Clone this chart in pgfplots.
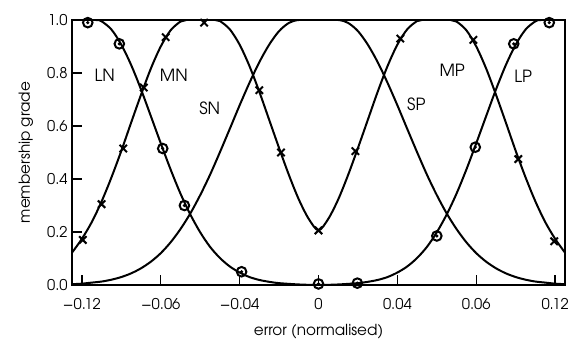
\documentclass[border=0pt]{standalone}
\usepackage{fontspec}
\setmainfont{TeX Gyre Adventor}
\usepackage{pgfplots}
\pgfplotsset{compat=1.18}
\begin{document}
\begin{tikzpicture}
\begin{axis}[
  scale only axis,
  width=246.5pt, height=132.5pt,
  xmin=-0.125, xmax=0.125, ymin=0, ymax=1,
  xtick={-0.12,-0.08,-0.04,0,0.04,0.08,0.12},
  xticklabels={−0.12,−0.06,−0.04,0,0.04,0.06,0.12},
  ytick={0,0.2,0.4,0.6,0.8,1},
  yticklabels={0.0,0.2,0.4,0.6,0.8,1.0},
  tick align=inside, xtick pos=bottom, ytick pos=left,
  major tick length=5pt,
  tick style={line width=0.7pt, black},
  axis line style={line width=0.8pt},
  ticklabel style={font=\fontsize{7.4}{8}\selectfont},
  xticklabel style={inner sep=0pt, anchor=north, yshift=-6.5pt},
  yticklabel style={inner sep=0pt, anchor=east, xshift=-2pt},
  xlabel={error (normalised)},
  ylabel={membership grade},
  label style={font=\fontsize{7.6}{9}\selectfont},
  xlabel style={at={(axis description cs:0.5,-0.189)}, anchor=base},
  ylabel style={at={(axis description cs:-0.0933,0.5)}, anchor=center},
  every axis plot/.append style={black},
]
% LN
\addplot[smooth, line width=1pt, no marks] coordinates {
(-0.125,1)(-0.113,1)(-0.11,0.995)(-0.105,0.964)(-0.10,0.907)(-0.095,0.830)(-0.09,0.738)(-0.085,0.637)(-0.08,0.535)(-0.075,0.436)(-0.07,0.345)(-0.065,0.266)(-0.06,0.199)(-0.055,0.144)(-0.05,0.102)(-0.045,0.070)(-0.04,0.047)(-0.035,0.030)(-0.03,0.019)(-0.025,0.012)(-0.02,0.007)(-0.01,0.002)(0,0)(0.02,0)};
% LP
\addplot[smooth, line width=1pt, no marks] coordinates {
(-0.02,0)(0,0)(0.01,0.002)(0.02,0.007)(0.025,0.012)(0.03,0.019)(0.035,0.030)(0.04,0.047)(0.045,0.070)(0.05,0.102)(0.055,0.144)(0.06,0.199)(0.065,0.266)(0.07,0.345)(0.075,0.436)(0.08,0.535)(0.085,0.637)(0.09,0.738)(0.095,0.830)(0.10,0.907)(0.105,0.964)(0.11,0.995)(0.113,1)(0.125,1)};
% SN / SP bell
\addplot[smooth, line width=1pt, no marks] coordinates {
(-0.125,0.003)(-0.12,0.005)(-0.115,0.009)(-0.11,0.013)(-0.105,0.020)(-0.10,0.030)(-0.095,0.044)(-0.09,0.063)(-0.085,0.088)(-0.08,0.120)(-0.075,0.161)(-0.07,0.211)(-0.065,0.270)(-0.06,0.339)(-0.055,0.416)(-0.05,0.501)(-0.045,0.589)(-0.04,0.678)(-0.035,0.763)(-0.03,0.841)(-0.025,0.907)(-0.02,0.958)(-0.015,0.989)(-0.01,1)(0,1)(0.01,1)(0.015,0.989)(0.02,0.958)(0.025,0.907)(0.03,0.841)(0.035,0.763)(0.04,0.678)(0.045,0.589)(0.05,0.501)(0.055,0.416)(0.06,0.339)(0.065,0.270)(0.07,0.211)(0.075,0.161)(0.08,0.120)(0.085,0.088)(0.09,0.063)(0.095,0.044)(0.10,0.030)(0.105,0.020)(0.11,0.013)(0.115,0.009)(0.12,0.005)(0.125,0.003)};
% MN / MP
\addplot[smooth, line width=1pt, no marks] coordinates {
(-0.125,0.122)(-0.12,0.174)(-0.115,0.237)(-0.11,0.315)(-0.105,0.406)(-0.10,0.506)(-0.095,0.613)(-0.09,0.718)(-0.085,0.817)(-0.08,0.900)(-0.075,0.961)(-0.07,0.994)(-0.067,1)(-0.06,1)(-0.0525,1)(-0.05,0.996)(-0.045,0.965)(-0.04,0.907)(-0.035,0.826)(-0.03,0.729)(-0.025,0.623)(-0.02,0.517)(-0.015,0.415)(-0.01,0.323)(-0.005,0.250)(0,0.206)(0.005,0.250)(0.01,0.323)(0.015,0.415)(0.02,0.517)(0.025,0.623)(0.03,0.729)(0.035,0.826)(0.04,0.907)(0.045,0.965)(0.05,0.996)(0.0525,1)(0.06,1)(0.067,1)(0.07,0.994)(0.075,0.961)(0.08,0.900)(0.085,0.817)(0.09,0.718)(0.095,0.613)(0.10,0.506)(0.105,0.406)(0.11,0.315)(0.115,0.237)(0.12,0.174)(0.125,0.122)};
% cross markers
\addplot[only marks, mark=x, mark size=2.6pt, line width=1pt] coordinates {
(-0.1195,0.17)(-0.11,0.305)(-0.099,0.515)(-0.0886,0.745)(-0.0775,0.935)(-0.058,0.99)(-0.030,0.735)(-0.019,0.50)(0,0.206)(0.0187,0.505)(0.0415,0.93)(0.0785,0.925)(0.1013,0.475)(0.1195,0.165)};
% circle markers
\addplot[only marks, mark=o, mark size=2.4pt, line width=1pt] coordinates {
(-0.117,0.99)(-0.101,0.91)(-0.079,0.515)(-0.068,0.30)(-0.039,0.05)(0,0.004)(0.0197,0.007)(0.060,0.185)(0.0795,0.52)(0.099,0.91)(0.117,0.99)};
\addplot[only marks, mark=*, mark size=0.6pt] coordinates {
(-0.117,0.99)(-0.101,0.91)(-0.079,0.515)(-0.068,0.30)(-0.039,0.05)(0,0.004)(0.0197,0.007)(0.060,0.185)(0.0795,0.52)(0.099,0.91)(0.117,0.99)};
\node[font=\fontsize{8.4}{9}\selectfont] at (axis cs:-0.1084,0.79) {LN};
\node[font=\fontsize{8.4}{9}\selectfont] at (axis cs:-0.0734,0.79) {MN};
\node[font=\fontsize{8.4}{9}\selectfont] at (axis cs:-0.0552,0.667) {SN};
\node[font=\fontsize{8.4}{9}\selectfont] at (axis cs:0.0496,0.68) {SP};
\node[font=\fontsize{8.4}{9}\selectfont] at (axis cs:0.0678,0.81) {MP};
\node[font=\fontsize{8.4}{9}\selectfont] at (axis cs:0.1038,0.787) {LP};
\end{axis}
\pgfresetboundingbox
\path[use as bounding box] ([shift={(-36pt,-27.5pt)}]current axis.south west) rectangle ([shift={(5pt,10pt)}]current axis.north east);
\end{tikzpicture}
\end{document}
